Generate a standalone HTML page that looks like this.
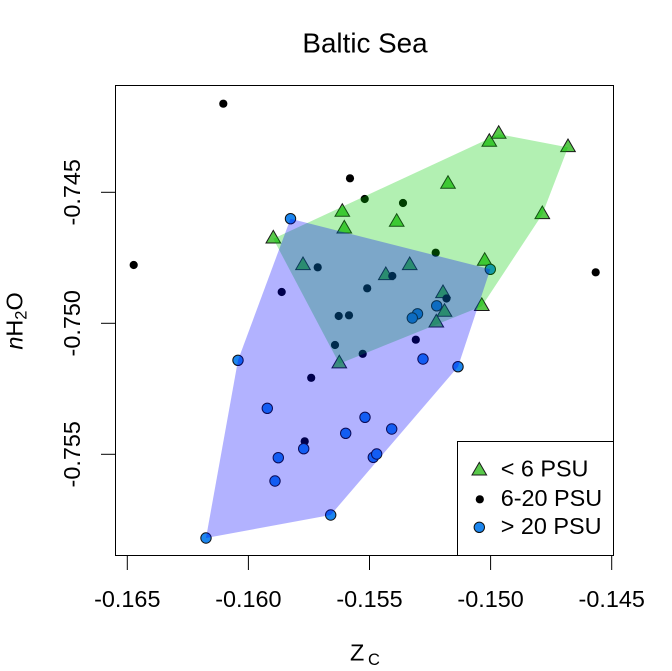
<!DOCTYPE html>
<html>
<head>
<meta charset="utf-8">
<style>
  html, body { margin: 0; padding: 0; background: #ffffff; }
  svg { display: block; }
  text { font-family: "Liberation Sans", Arial, sans-serif; fill: #000; }
</style>
</head>
<body>
<svg width="672" height="671" viewBox="0 0 672 671" xmlns="http://www.w3.org/2000/svg">
  <rect x="0" y="0" width="672" height="671" fill="#ffffff"/>

  <!-- Title -->
  <text x="365" y="52.7" font-size="27.8" text-anchor="middle">Baltic Sea</text>

  <!-- Points: triangles (< 6 PSU) -->
  <g fill="#58c84a" stroke="#1a1a1a" stroke-width="1" stroke-linejoin="miter">
    <polygon points="273.3,230.4 280.6,243 266,243"/>
    <polygon points="303,257 310.3,269.6 295.7,269.6"/>
    <polygon points="342.3,203.7 349.6,216.3 335,216.3"/>
    <polygon points="344.3,220.4 351.6,233 337,233"/>
    <polygon points="396.7,213.7 404,226.3 389.4,226.3"/>
    <polygon points="448,175.7 455.3,188.3 440.7,188.3"/>
    <polygon points="489.3,133.7 496.6,146.3 482,146.3"/>
    <polygon points="498.7,125.7 506,138.3 491.4,138.3"/>
    <polygon points="568,139 575.3,151.6 560.7,151.6"/>
    <polygon points="542.3,206 549.6,218.6 535,218.6"/>
    <polygon points="484.7,252.7 492,265.3 477.4,265.3"/>
    <polygon points="409.7,257 417,269.6 402.4,269.6"/>
    <polygon points="385.8,267 393.1,279.6 378.5,279.6"/>
    <polygon points="443,285 450.3,297.6 435.7,297.6"/>
    <polygon points="481.8,297.9 489.1,310.5 474.5,310.5"/>
    <polygon points="444.5,303.7 451.8,316.3 437.2,316.3"/>
    <polygon points="436.3,314.4 443.6,327 429,327"/>
    <polygon points="339.3,355.3 346.6,367.9 332,367.9"/>
  </g>

  <!-- Points: black dots (6-20 PSU) -->
  <g fill="#000000">
    <circle cx="223.3" cy="103.7" r="4.1"/>
    <circle cx="133.7" cy="265" r="4.1"/>
    <circle cx="595.7" cy="272.3" r="4.1"/>
    <circle cx="350" cy="178.3" r="4.1"/>
    <circle cx="364.7" cy="199" r="4.1"/>
    <circle cx="403" cy="203" r="4.1"/>
    <circle cx="435.7" cy="252.7" r="4.1"/>
    <circle cx="317.7" cy="267.3" r="4.1"/>
    <circle cx="392.3" cy="276" r="4.1"/>
    <circle cx="281.7" cy="292" r="4.1"/>
    <circle cx="367.2" cy="288.3" r="4.1"/>
    <circle cx="446.5" cy="298.5" r="4.1"/>
    <circle cx="338.7" cy="316" r="4.1"/>
    <circle cx="349" cy="315.3" r="4.1"/>
    <circle cx="335" cy="345" r="4.1"/>
    <circle cx="415.8" cy="339.7" r="4.1"/>
    <circle cx="362.7" cy="353.8" r="4.1"/>
    <circle cx="311.2" cy="377.8" r="4.1"/>
    <circle cx="304.7" cy="441.3" r="4.1"/>
  </g>

  <!-- Points: blue circles (> 20 PSU) -->
  <g fill="#1c86ee" stroke="#111111" stroke-width="1">
    <circle cx="290.5" cy="218.7" r="5.2"/>
    <circle cx="490.3" cy="269.3" r="5.2"/>
    <circle cx="436.7" cy="305.8" r="5.2"/>
    <circle cx="417.5" cy="313.8" r="5.2"/>
    <circle cx="412.3" cy="318" r="5.2"/>
    <circle cx="423" cy="359" r="5.2"/>
    <circle cx="458" cy="366.7" r="5.2"/>
    <circle cx="238" cy="360.3" r="5.2"/>
    <circle cx="267.3" cy="408.3" r="5.2"/>
    <circle cx="345.7" cy="433.3" r="5.2"/>
    <circle cx="303.7" cy="448.7" r="5.2"/>
    <circle cx="278.3" cy="457.7" r="5.2"/>
    <circle cx="275" cy="481" r="5.2"/>
    <circle cx="330.7" cy="515" r="5.2"/>
    <circle cx="206" cy="538" r="5.2"/>
    <circle cx="365" cy="417.3" r="5.2"/>
    <circle cx="391.7" cy="429" r="5.2"/>
    <circle cx="373.3" cy="457.3" r="5.2"/>
    <circle cx="376.7" cy="454" r="5.2"/>
  </g>

  <!-- Convex hulls (drawn over points) -->
  <polygon points="273.3,238.8 498.7,134.1 568,147.4 542.3,214.4 481.8,306.3 339.3,363.7"
           fill="rgb(0,205,0)" fill-opacity="0.3" stroke="none"/>
  <polygon points="290.5,218.7 490.3,269.3 458,366.7 330.7,515 206,538 238,360.3"
           fill="rgb(0,0,255)" fill-opacity="0.3" stroke="none"/>

  <!-- Plot box -->
  <rect x="115.5" y="85.5" width="498" height="470" fill="none" stroke="#000" stroke-width="1"/>

  <!-- X axis ticks -->
  <g stroke="#000" stroke-width="1">
    <line x1="127.3" y1="555.5" x2="127.3" y2="570"/>
    <line x1="248.4" y1="555.5" x2="248.4" y2="570"/>
    <line x1="369.5" y1="555.5" x2="369.5" y2="570"/>
    <line x1="490.6" y1="555.5" x2="490.6" y2="570"/>
    <line x1="611.7" y1="555.5" x2="611.7" y2="570"/>
  </g>
  <g font-size="23.4" text-anchor="middle">
    <text x="127.3" y="607">-0.165</text>
    <text x="248.4" y="607">-0.160</text>
    <text x="369.5" y="607">-0.155</text>
    <text x="490.6" y="607">-0.150</text>
    <text x="611.7" y="607">-0.145</text>
  </g>

  <!-- Y axis ticks -->
  <g stroke="#000" stroke-width="1">
    <line x1="101" y1="192.3" x2="115.5" y2="192.3"/>
    <line x1="101" y1="323.3" x2="115.5" y2="323.3"/>
    <line x1="101" y1="454.3" x2="115.5" y2="454.3"/>
  </g>
  <g font-size="23.4" text-anchor="middle">
    <text transform="translate(80,192.3) rotate(-90)">-0.745</text>
    <text transform="translate(80,323.3) rotate(-90)">-0.750</text>
    <text transform="translate(80,454.3) rotate(-90)">-0.755</text>
  </g>

  <!-- Axis labels -->
  <text x="350" y="660.7" font-size="23.4">Z</text>
  <text x="368" y="665" font-size="16.5">C</text>

  <text transform="translate(22.5,321) rotate(-90)" font-size="23.4" text-anchor="middle"><tspan font-style="italic">n</tspan>H<tspan font-size="16.5" dy="4">2</tspan><tspan dy="-4">O</tspan></text>

  <!-- Legend -->
  <rect x="457.5" y="441.5" width="156" height="114" fill="#ffffff" stroke="#000" stroke-width="1"/>
  <polygon points="479.3,462.4 486.6,475 472,475" fill="#58c84a" stroke="#1a1a1a" stroke-width="1"/>
  <circle cx="479.8" cy="499.3" r="4.1" fill="#000"/>
  <circle cx="479.3" cy="527.3" r="5.2" fill="#1c86ee" stroke="#111" stroke-width="1"/>
  <g font-size="23.4">
    <text x="500.7" y="476.7">&lt; 6 PSU</text>
    <text x="500.7" y="505.8">6-20 PSU</text>
    <text x="500.7" y="534">&gt; 20 PSU</text>
  </g>
</svg>
</body>
</html>
